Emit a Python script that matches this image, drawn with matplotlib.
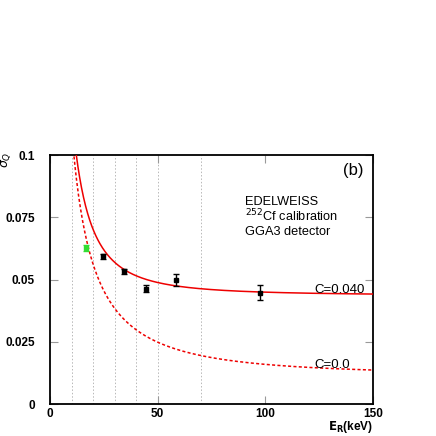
import numpy as np
import matplotlib
matplotlib.use("Agg")
import matplotlib.pyplot as plt

# data points (recoil energy keV, sigma_Q, error)
black_E = [24.5, 34.4, 44.4, 58.4, 97.7]
black_s = [0.0594, 0.0534, 0.0463, 0.0499, 0.0447]
black_err = [0.0010, 0.0010, 0.0014, 0.0025, 0.0030]
green_E = [16.6]
green_s = [0.0625]
green_err = [0.0012]

# model parameters for the resolution curves
res_a = 1.1      # 1/E term
res_b = 0.0115   # constant baseline
C_labels = ["C=0.040", "C=0.0"]
C_vals = [0.042, 0.0]

grid_x = [10, 20, 30, 40, 50, 70]
xticks = [0, 50, 100, 150]
yticks = [0, 0.025, 0.05, 0.075, 0.1]
ytick_labels = ["0", "0.025", "0.05", "0.075", "0.1"]

plt.rcParams['font.family'] = ['Liberation Sans', 'DejaVu Sans']

fig = plt.figure(figsize=(4.36, 4.36), dpi=100)
ax = fig.add_axes([50/436, 32/436, 323/436, 249/436])
ax.set_xlim(0, 150)
ax.set_ylim(0, 0.1)

for gx in grid_x:
    ax.axvline(gx, color='#b8b8b8', lw=0.7, ls=(0, (1.5, 2)), zorder=1)

E = np.linspace(8, 150, 600)
base = np.sqrt((res_a / E) ** 2 + res_b ** 2)
for C, lab in zip(C_vals, C_labels):
    y = np.sqrt(base ** 2 + C ** 2)
    if C > 0:
        ax.plot(E, y, color='#ee0000', lw=1.1, zorder=3)
    else:
        ax.plot(E, y, color='#ee0000', lw=1.1, ls=(0, (2, 1.5)), zorder=3)

ax.errorbar(black_E, black_s, yerr=black_err, fmt='s', color='black', ms=3.2,
            elinewidth=1.0, capsize=2.5, capthick=1.0, zorder=4)
ax.errorbar(green_E, green_s, yerr=green_err, fmt='s', color='#33dd33', ms=3.2,
            elinewidth=1.0, capsize=2.5, capthick=1.0, zorder=4)

ax.text(134.5, 0.0447, C_labels[0], fontsize=9.5, ha='center', va='baseline')
ax.text(131, 0.0146, C_labels[1], fontsize=9.5, ha='center', va='baseline')

ax.text(0.972, 0.937, "(b)", transform=ax.transAxes, fontsize=12, ha='right', va='center')
ax.text(0.604, 0.801, "EDELWEISS", transform=ax.transAxes, fontsize=9.2, ha='left', va='baseline')
ax.text(0.604, 0.733, r"$^{252}$Cf calibration", transform=ax.transAxes, fontsize=9.2, ha='left', va='baseline')
ax.text(0.604, 0.679, "GGA3 detector", transform=ax.transAxes, fontsize=9.2, ha='left', va='baseline')

ax.set_xticks(xticks)
ax.set_xticklabels([str(t) for t in xticks], fontweight='bold', fontsize=8.5)
ax.set_yticks(yticks)
ax.set_yticklabels(ytick_labels, fontweight='bold', fontsize=8.5)
ax.tick_params(axis='both', direction='in', color='#999999', length=6, width=0.8,
               top=True, right=True)
ax.tick_params(axis='y', pad=10.8)
ax.tick_params(axis='x', pad=3.0)

for sp in ax.spines.values():
    sp.set_linewidth(1.3)
    sp.set_color('black')

fig.text(373/436, 1 - 426.5/436, r"$\mathbf{E_R}$(keV)", fontsize=8.5, fontweight='bold', ha='right', va='center')
fig.text(6/436, 1 - 160/436, r"$\sigma_Q$", fontsize=9, fontweight='bold', ha='center', va='center', rotation=90)

fig.savefig("out.png", dpi=100)
